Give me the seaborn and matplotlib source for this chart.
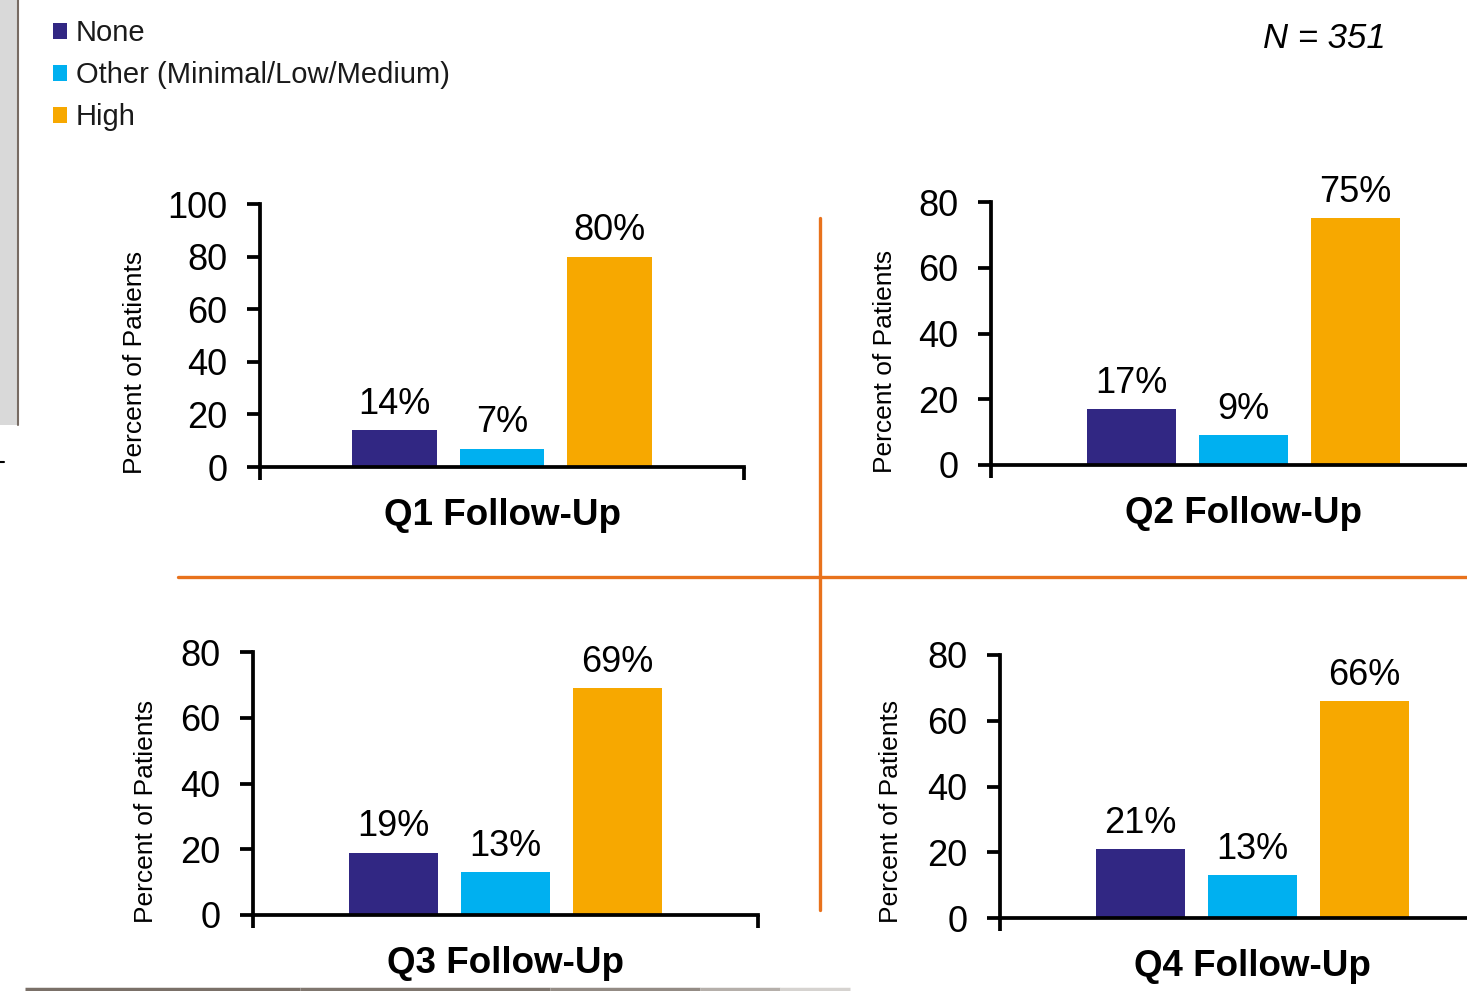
import numpy as np
import pandas as pd
import matplotlib
matplotlib.use("Agg")
import matplotlib.pyplot as plt
from matplotlib.lines import Line2D
from matplotlib.patches import Rectangle
from matplotlib.collections import LineCollection
import seaborn as sns

# ---- data ----
quarters = ["Q1 Follow-Up", "Q2 Follow-Up", "Q3 Follow-Up", "Q4 Follow-Up"]
levels = ["None", "Other (Minimal/Low/Medium)", "High"]
q1_values = [14, 7, 80]
q2_values = [17, 9, 75]
q3_values = [19, 13, 69]
q4_values = [21, 13, 66]
y_max = [100, 80, 80, 80]
y_label = "Percent of Patients"
n_text = "N = 351"
level_colors = ["#312783", "#00B0F0", "#F7A800"]

all_values = [q1_values, q2_values, q3_values, q4_values]

sns.set_theme(style="white")
plt.rcParams["font.family"] = ["Liberation Sans", "DejaVu Sans"]

W, H = 1467, 991
fig = plt.figure(figsize=(W / 100, H / 100), dpi=100)
fig.patch.set_facecolor("white")

def rect(left, right, top, bottom):
    return [left / W, 1 - bottom / H, (right - left) / W, (bottom - top) / H]

# pixel geometry of each panel: left, right, top(ymax), bottom(0)
geoms = [(260, 744, 204, 467), (991, 1496, 202, 465),
         (253, 758, 652, 915), (1000, 1505, 655, 918)]
# y-label anchor (x px of right edge incl. descent, y px of centre)
ylab_pos = [(146.5, 362.5), (897, 361), (158, 811), (903, 811)]

LW = 2.7
TL = 9.4
legend_handles = None
for i, (q, vals) in enumerate(zip(quarters, all_values)):
    l, r, t, b = geoms[i]
    ax = fig.add_axes(rect(l, r, t, b))
    ax.set_facecolor("none")
    df = pd.DataFrame({"quarter": [q] * len(levels), "level": levels, "pct": vals})
    sns.barplot(data=df, x="quarter", y="pct", hue="level", hue_order=levels,
                palette=level_colors, saturation=1, width=0.665, gap=0.21,
                linewidth=0, ax=ax, legend=(i == 0))
    if i == 0:
        legend_handles = ax.get_legend_handles_labels()
        ax.get_legend().remove()
    for cont in ax.containers:
        ax.bar_label(cont, fmt="%.0f%%", padding=6, fontsize=26, color="black")
    ax.set_xlim(-0.5, 0.5)
    ax.set_ylim(0, y_max[i])
    ax.set_yticks(np.arange(0, y_max[i] + 1, 20))
    ax.set_xticks([-0.5, 0.5], minor=True)
    for s in ["top", "right"]:
        ax.spines[s].set_visible(False)
    for s in ["left", "bottom"]:
        ax.spines[s].set_visible(True)
        ax.spines[s].set_color("black")
        ax.spines[s].set_linewidth(LW)
    ax.tick_params(axis="y", which="major", left=True, direction="out", length=TL,
                   width=LW, labelsize=26, pad=14, colors="black")
    ax.tick_params(axis="x", which="major", bottom=True, length=0, pad=22,
                   labelsize=26.5, colors="black")
    ax.tick_params(axis="x", which="minor", bottom=True, direction="out",
                   length=TL, width=LW, colors="black")
    for lab in ax.get_xticklabels():
        lab.set_fontweight("bold")
    ax.set_xlabel("")
    ax.set_ylabel(y_label, fontsize=19, color="black")
    lx, ly = ylab_pos[i]
    ax.yaxis.set_label_coords((lx - l) / (r - l), (b - ly) / (b - t))
    ax.grid(False)

# legend
handles, labels = legend_handles
fig.legend(handles, labels, loc="upper left", bbox_to_anchor=(53 / W, 1 - 19 / H),
           frameon=False, fontsize=21, handlelength=0.48, handleheight=0.48,
           handletextpad=0.3, labelspacing=0.48, borderpad=0, borderaxespad=0,
           labelcolor="#1a1a1a")

# N annotation
fig.text(1324 / W, 1 - 39 / H, n_text, fontsize=25, style="italic",
         ha="center", va="center", color="black")

# orange dividers
orange = "#E8721C"
fig.add_artist(Line2D([178 / W, 1], [1 - 577 / H, 1 - 577 / H], color=orange,
                      lw=2.4, transform=fig.transFigure, zorder=5))
fig.add_artist(Line2D([820 / W, 820 / W], [1 - 218 / H, 1 - 910 / H], color=orange,
                      lw=2.4, transform=fig.transFigure, zorder=5))

# left gray strip
fig.add_artist(Rectangle((0, 1 - 425 / H), 17 / W, 425 / H, transform=fig.transFigure,
                         facecolor="#D9D9D9", edgecolor="none", zorder=1))
fig.add_artist(Line2D([17.5 / W, 17.5 / W], [1, 1 - 425 / H], color="#776b63",
                      lw=1.5, transform=fig.transFigure, zorder=2))
fig.add_artist(Line2D([0, 4 / W], [1 - 462 / H, 1 - 462 / H], color="black",
                      lw=1.5, transform=fig.transFigure, zorder=2))

# bottom fading gray rule
xs = [25, 300, 550, 700, 780, 850]
cols = ["#7a7068", "#7f766e", "#938b84", "#b5afaa", "#d6d3d0", "#f0efee"]
segs = [[(xs[k] / W, 1 - 989 / H), (xs[k + 1] / W, 1 - 989 / H)] for k in range(len(xs) - 1)]
fig.add_artist(LineCollection(segs, colors=cols[:-1], linewidths=2.5,
                              transform=fig.transFigure, zorder=2))

fig.savefig("out.png", dpi=100, facecolor="white")
